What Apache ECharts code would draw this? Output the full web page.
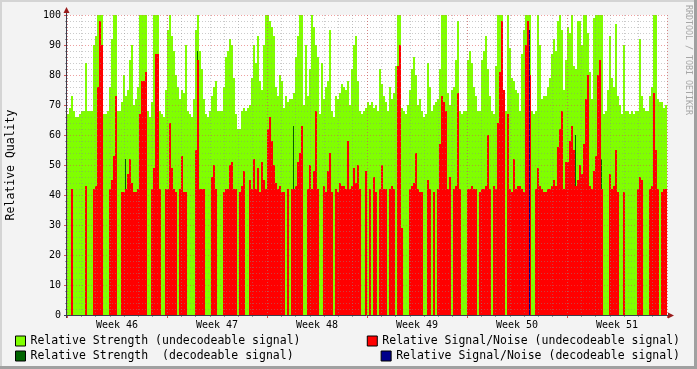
<!DOCTYPE html>
<html><head><meta charset="utf-8">
<script src="https://cdn.jsdelivr.net/npm/echarts@6/dist/echarts.min.js"></script>
<style>html,body{margin:0;padding:0;background:#f3f3f3;overflow:hidden}#c{width:697px;height:369px}</style>
</head><body><div id="c"></div>
<script>
// ---- data (one value per 2-pixel time slot, ~29 min each) ----
const weekLabels = ['Week 46','Week 47','Week 48','Week 49','Week 50','Week 51'];
const seriesNames = ['Relative Strength (undecodeable signal)','Relative Strength  (decodeable signal)',
  'Relative Signal/Noise (undecodeable signal)','Relative Signal/Noise (decodeable signal)'];
const strengthUndec = [
67,69,73,68,66,66,67,68,68,84, 68,68,68,90,93,100,100,100,67,67,
68,76,92,100,100,68,68,71,80,73, 75,85,90,70,72,76,100,100,100,100,
68,66,71,100,100,100,68,67,66,75, 95,100,93,88,80,76,72,75,74,90,
68,67,66,72,95,100,88,82,72,67, 66,68,73,76,78,68,68,68,76,86,
88,92,90,79,67,62,62,68,69,68, 69,70,79,90,84,93,78,75,90,100,
100,98,96,93,76,73,80,78,69,73, 71,72,72,74,86,93,100,100,70,90,
73,82,100,96,90,86,67,84,72,76, 78,95,68,66,73,72,74,77,76,75,
78,70,82,90,93,78,68,67,68,69, 71,70,71,69,70,68,82,77,73,71,
68,76,72,74,83,100,100,69,68,67, 70,75,82,86,80,70,72,68,66,67,
84,76,68,70,71,72,82,100,100,100, 74,70,75,76,85,98,68,67,68,68,
85,88,84,76,73,68,68,85,88,93, 82,73,68,67,83,100,100,100,68,68,
100,89,79,78,75,74,68,87,95,100, 100,100,68,67,68,100,90,72,73,73,
76,79,87,92,88,98,100,95,75,85, 96,94,100,83,82,98,98,90,100,100,
94,81,72,99,100,100,100,100,67,68, 75,93,79,76,97,73,70,67,90,68,
68,67,68,67,68,68,92,73,69,68, 68,73,76,100,100,72,71,71,69,70];
const snUndec = [
0,0,42,0,0,0,0,0,0,43, 0,0,0,42,43,76,98,90,0,0,
0,42,45,53,73,0,0,41,41,42, 47,52,44,41,41,42,67,78,78,81,
0,0,42,49,87,87,42,0,0,42, 42,64,49,42,41,0,42,53,41,41,
0,0,0,0,55,85,42,42,42,0, 0,0,46,50,42,0,0,0,41,42,
42,50,51,42,42,0,41,43,48,0, 0,45,42,52,42,49,41,51,45,42,
62,66,58,50,44,42,43,41,41,0, 42,0,42,42,43,51,54,63,0,0,
42,50,42,48,68,42,0,0,43,41, 48,54,41,0,42,41,44,43,43,42,
58,42,43,49,44,50,42,0,0,48, 0,42,0,46,41,0,42,50,42,42,
0,42,43,42,0,83,90,29,0,0, 0,42,43,44,54,42,41,41,0,0,
45,42,0,41,0,42,57,73,71,68, 42,46,0,42,43,74,42,0,0,0,
42,42,43,42,42,0,41,42,42,43, 60,42,0,43,42,64,81,98,75,0,
67,42,41,52,42,43,43,42,41,90, 98,80,0,0,42,49,43,42,41,41,
42,42,43,45,43,56,62,68,42,51, 51,58,63,55,43,45,50,47,57,72,
80,43,42,48,53,80,85,42,0,0, 0,47,42,43,55,41,0,0,41,0,
0,0,0,0,0,42,46,45,0,0, 0,42,43,74,55,42,0,41,42,42];
// sparse decodeable samples: [slot, value]
const strengthDec = [[29,52],[65,88],[113,63],[149,48],[189,58],[254,60],[267,52]];
const snDec = [[231,95]];

const days = Array.from({length: 42}, (_, d) => 'd' + d);
const weeks = weekLabels.map((_, w) => 'w' + w);

const MONO = 'DejaVu Sans Mono';
const GRID_MINOR = 'rgba(140,140,140,0.45)';
const GRID_MAJOR = 'rgba(222,80,80,0.55)';
const AXIS = '#3c3c4c';

const chart = echarts.init(document.getElementById('c'), null, {renderer: 'canvas'});
const L = 67, T = 15, W = 600, H = 300;
// each sample drawn as a rectangle spanning `span` slots, snapped to whole pixels
function slotSeries(name, data, color, z, span) {
  return {name, type: 'custom', data, xAxisIndex: 3, yAxisIndex: 0, silent: true, z,
    encode: {x: 0, y: 1}, itemStyle: {color}, emphasis: {disabled: true},
    renderItem: (params, api) => {
      const i = api.value(0), v = api.value(1);
      if (!v) return null;
      const p0 = api.coord([i, 0]), p1 = api.coord([i + span, v]);
      const x0 = Math.round(p0[0]), x1 = Math.round(p1[0]);
      const yb = Math.round(p0[1]), yt = Math.round(p1[1]);
      return {type: 'rect', shape: {x: x0, y: yt, width: x1 - x0, height: yb - yt}, style: {fill: color}};
    }};
}
const pairs = (arr) => arr.map((v, i) => [i, v]);
function legendAt(name, pos) {
  return Object.assign({data: [name], orient: 'horizontal', padding: 0, itemWidth: 10, itemHeight: 10,
    icon: 'rect', selectedMode: false, itemStyle: {borderColor: '#000', borderWidth: 1},
    textStyle: {fontFamily: MONO, fontSize: 11.5, color: '#000'}}, pos);
}
chart.setOption({
  animation: false,
  backgroundColor: '#f3f3f3',
  grid: {left: L, top: T, width: W, height: H, show: true, backgroundColor: '#ffffff', borderWidth: 0,
    containLabel: false, outerBoundsMode: 'none'},
  xAxis: [
    {type: 'category', data: ['a'], show: false},
    {type: 'category', data: days, boundaryGap: true, position: 'bottom', z: 10,
      axisLine: {show: false},
      axisTick: {show: true, interval: 0, length: 2, lineStyle: {color: '#999'}},
      splitLine: {show: true, interval: 0, lineStyle: {color: GRID_MINOR, type: [1, 2], width: 1}},
      axisLabel: {interval: (i) => i % 7 === 3, formatter: (v, i) => weekLabels[Math.floor(i / 7)],
        fontFamily: MONO, fontSize: 10, color: '#000', margin: 5}},
    {type: 'category', data: weeks, boundaryGap: true, position: 'bottom', z: 11,
      axisLine: {show: false}, axisLabel: {show: false},
      axisTick: {show: true, interval: 0, length: 3, lineStyle: {color: '#d05050'}},
      splitLine: {show: true, interval: 0, lineStyle: {color: GRID_MAJOR, type: [1, 2], width: 1}}},
    {type: 'value', min: 0, max: strengthUndec.length, show: false}
  ],
  yAxis: [{type: 'value', min: 0, max: 100, interval: 10, z: 10,
    name: 'Relative Quality', nameLocation: 'middle', nameRotate: 90, nameGap: 50,
    nameTextStyle: {fontFamily: MONO, fontSize: 11.5, color: '#000'},
    axisLine: {show: false},
    axisTick: {show: true, length: 3, lineStyle: {color: '#d05050'}},
    axisLabel: {fontFamily: MONO, fontSize: 10, color: '#000', margin: 6},
    splitLine: {show: true, lineStyle: {color: GRID_MAJOR, type: [1, 2], width: 1}},
    minorTick: {show: true, splitNumber: 5, length: 2, lineStyle: {color: '#999'}},
    minorSplitLine: {show: true, lineStyle: {color: GRID_MINOR, type: [1, 2], width: 1}}
  }],
  legend: [
    legendAt(seriesNames[0], {left: 15, top: 335}),
    legendAt(seriesNames[1], {left: 15, top: 350}),
    legendAt(seriesNames[2], {right: 17, top: 335}),
    legendAt(seriesNames[3], {right: 17, top: 350})
  ],
  series: [
    slotSeries(seriesNames[0], pairs(strengthUndec), '#80ff00', 2, 1),
    slotSeries(seriesNames[1], strengthDec, '#006400', 3, 0.5),
    slotSeries(seriesNames[2], pairs(snUndec), '#ff0000', 4, 1),
    slotSeries(seriesNames[3], snDec, '#00008b', 5, 0.5)
  ],
  graphic: [
    {type: 'line', shape: {x1: 0, y1: 1, x2: 697, y2: 1}, style: {stroke: '#d4d4d4', lineWidth: 2}, silent: true},
    {type: 'line', shape: {x1: 1, y1: 0, x2: 1, y2: 369}, style: {stroke: '#d4d4d4', lineWidth: 2}, silent: true},
    {type: 'line', shape: {x1: 0, y1: 367.5, x2: 697, y2: 367.5}, style: {stroke: '#a0a0a0', lineWidth: 3}, silent: true},
    {type: 'line', shape: {x1: 695.5, y1: 0, x2: 695.5, y2: 369}, style: {stroke: '#a0a0a0', lineWidth: 3}, silent: true},
    {type: 'line', z: 50, shape: {x1: L - 0.5, y1: T + H + 3, x2: L - 0.5, y2: 12}, style: {stroke: AXIS, lineWidth: 1}, silent: true},
    {type: 'line', z: 50, shape: {x1: L - 3, y1: T + H + 0.5, x2: 669, y2: T + H + 0.5}, style: {stroke: AXIS, lineWidth: 1}, silent: true},
    {type: 'polygon', z: 51, shape: {points: [[66.5, 7], [63.5, 13], [69.5, 13]]}, style: {fill: '#9a1c1c'}, silent: true},
    {type: 'polygon', z: 51, shape: {points: [[674, 315.5], [668, 312.5], [668, 318.5]]}, style: {fill: '#9a1c1c'}, silent: true},
    {type: 'text', x: 688, y: 5, rotation: -Math.PI / 2, silent: true,
      style: {text: 'RRDTOOL / TOBI OETIKER', fontFamily: MONO, fontSize: 8.3, fill: '#a6a6a6',
        align: 'left', verticalAlign: 'middle'}}
  ]
});
</script></body></html>
